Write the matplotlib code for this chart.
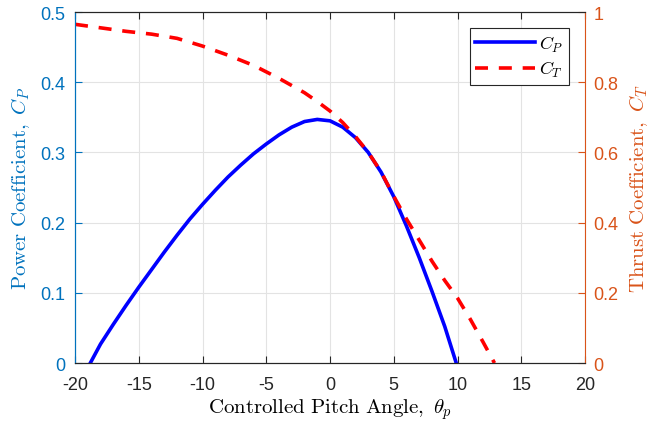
import numpy as np
import matplotlib
matplotlib.use("Agg")
import matplotlib.pyplot as plt

plt.rcParams['font.family'] = ['Liberation Sans', 'DejaVu Sans']
plt.rcParams['mathtext.fontset'] = 'cm'
plt.rcParams['axes.unicode_minus'] = False

# power coefficient vs pitch angle
cp_pitch = [-18.8, -18, -17, -16, -15, -14, -13, -12, -11, -10, -9, -8, -7, -6, -5, -4,
            -3, -2, -1, 0, 1, 2, 3, 4, 5, 6, 7, 8, 9, 9.9]
cp_vals = [0.0, 0.027, 0.055, 0.082, 0.108, 0.133, 0.158, 0.182, 0.205, 0.226, 0.246,
           0.265, 0.282, 0.298, 0.312, 0.325, 0.336, 0.344, 0.347, 0.345, 0.336, 0.321,
           0.300, 0.272, 0.237, 0.195, 0.150, 0.102, 0.052, 0.0]

# thrust coefficient vs pitch angle
ct_pitch = [-20, -18, -16, -14, -12, -10, -8, -6, -4, -2, -1, 0, 1, 2, 3, 4, 5, 6, 7,
            8, 9, 10, 11, 12, 12.9]
ct_vals = [0.965, 0.955, 0.945, 0.937, 0.925, 0.903, 0.877, 0.848, 0.811, 0.770, 0.745,
           0.718, 0.685, 0.645, 0.600, 0.545, 0.475, 0.41, 0.35, 0.29, 0.235, 0.185,
           0.125, 0.06, 0.0]

xticks = [-20, -15, -10, -5, 0, 5, 10, 15, 20]
cp_ticks = [0, 0.1, 0.2, 0.3, 0.4, 0.5]
cp_ticklabels = ['0', '0.1', '0.2', '0.3', '0.4', '0.5']
ct_ticks = [0, 0.2, 0.4, 0.6, 0.8, 1]
ct_ticklabels = ['0', '0.2', '0.4', '0.6', '0.8', '1']
blue_ax = '#0072BD'
orange_ax = '#D95319'

fig = plt.figure(figsize=(6.49, 4.27), dpi=100)
ax = fig.add_axes([0.1156, 0.1475, 0.7858, 0.822])
ax2 = ax.twinx()

l1, = ax.plot(cp_pitch, cp_vals, color='blue', lw=2.6, label='$C_P$')
l2, = ax2.plot(ct_pitch, ct_vals, color='red', lw=2.6, ls=(0, (3.6, 3)), label='$C_T$')

ax.set_xlim(-20, 20)
ax.set_ylim(0, 0.5)
ax2.set_ylim(0, 1)
ax.set_xticks(xticks)
ax.set_yticks(cp_ticks)
ax.set_yticklabels(cp_ticklabels)
ax2.set_yticks(ct_ticks)
ax2.set_yticklabels(ct_ticklabels)
ax.grid(True, color='#e3e3e3', lw=0.8)
ax.set_axisbelow(True)

ax.tick_params(axis='x', direction='in', top=True, labelsize=13, length=5,
               color='#262626', labelcolor='#262626', pad=9)
ax.tick_params(axis='y', direction='in', colors=blue_ax, labelsize=13, length=5, pad=7)
ax2.tick_params(axis='y', direction='in', colors=orange_ax, labelsize=13, length=5, pad=6)
ax.spines['left'].set_color(blue_ax)
ax2.spines['left'].set_color(blue_ax)
ax2.spines['right'].set_color(orange_ax)
ax.spines['right'].set_visible(False)
for s in ['top', 'bottom']:
    ax.spines[s].set_color('#262626')
    ax2.spines[s].set_color('#262626')

ax.set_xlabel(r'$\mathrm{Controlled\ Pitch\ Angle,}\ \theta_p$', fontsize=15, labelpad=3)
ax.set_ylabel(r'$\mathrm{Power\ Coefficient,}\ C_P$', fontsize=15, color=blue_ax, labelpad=6)
ax2.set_ylabel(r'$\mathrm{Thrust\ Coefficient,}\ C_T$', fontsize=15, color=orange_ax, labelpad=6)

leg = ax2.legend([l1, l2], ['$C_P$', '$C_T$'], loc='upper right',
                 bbox_to_anchor=(0.9686, 0.954), borderaxespad=0, fontsize=13,
                 fancybox=False, edgecolor='#262626', framealpha=1,
                 handlelength=3.3, handletextpad=0.25, labelspacing=0.3,
                 borderpad=0.3)
leg.get_frame().set_linewidth(0.8)

fig.savefig('out.png', dpi=100)
